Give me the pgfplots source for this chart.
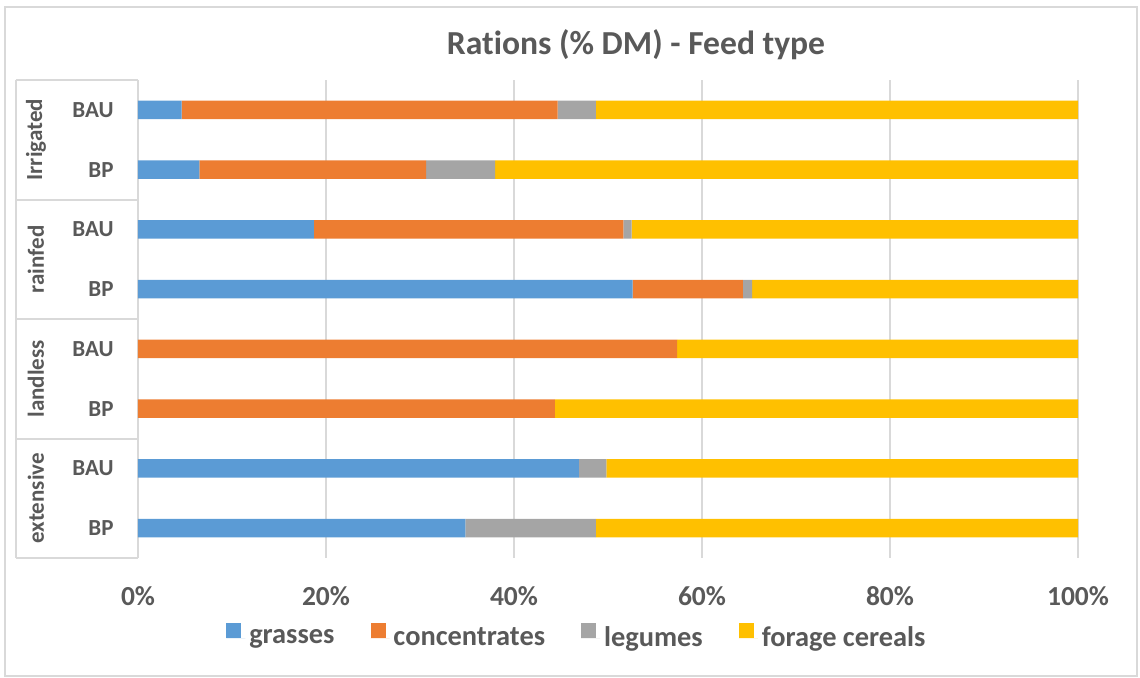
\documentclass[border=0pt]{standalone}
\usepackage{fontspec}
\setmainfont{Carlito}[Ligatures={NoCommon}]
\usepackage{pgfplots}
\pgfplotsset{compat=1.18}

\definecolor{cgrass}{HTML}{5B9BD5}
\definecolor{cconc}{HTML}{ED7D31}
\definecolor{cleg}{HTML}{A5A5A5}
\definecolor{cfor}{HTML}{FFC000}
\definecolor{txt}{HTML}{595959}
\definecolor{gridc}{HTML}{D9D9D9}

\begin{document}
\begin{tikzpicture}
  \useasboundingbox (0pt,0pt) rectangle (570pt,339pt);
  \draw[gridc, line width=1pt] (2.5pt,1pt) rectangle (568.5pt,335.5pt);
  \node[anchor=base, text=txt, font=\bfseries\fontsize{16.8}{19}\selectfont]
    at (318pt,311.5pt) {Rations (\% DM) - Feed type};
  \begin{axis}[
    at={(69pt,60pt)}, anchor=south west,
    scale only axis, width=470pt, height=239pt,
    xbar stacked, bar width=0.31,
    xmin=0, xmax=100, ymin=-0.5, ymax=7.5, y dir=reverse,
    ytick={0,...,7}, yticklabels={BAU,BP,BAU,BP,BAU,BP,BAU,BP},
    xtick={0,20,40,60,80,100},
    xticklabels={0\%,20\%,40\%,60\%,80\%,100\%},
    xmajorgrids, grid style={gridc, line width=1pt},
    major tick length=0pt,
    axis line style={draw=none},
    clip=false,
    yticklabel style={font=\bfseries\fontsize{11.5}{13}\selectfont, text=txt,
      inner sep=0pt, anchor=east, xshift=-12pt},
    xticklabel style={font=\bfseries\fontsize{13.75}{16}\selectfont, text=txt,
      anchor=base, yshift=-23.5pt},
    legend columns=-1,
    legend style={at={(0.468,-0.168)}, anchor=center, draw=none,
      font=\bfseries\fontsize{14.2}{16}\selectfont, text=txt,
      /tikz/every even column/.append style={column sep=16pt}},
    legend image code/.code={\fill[#1] (0pt,0pt) rectangle (7.5pt,7.5pt);
      \path (0pt,0pt) -- (9.5pt,0pt);},
  ]
    \addplot[fill=cgrass, draw=none] coordinates {
      (4.65,0) (6.52,1) (18.72,2) (52.63,3) (0,4) (0,5) (46.91,6) (34.82,7)};
    \addplot[fill=cconc, draw=none] coordinates {
      (40.0,0) (24.12,1) (32.91,2) (11.73,3) (57.34,4) (44.36,5) (0,6) (0,7)};
    \addplot[fill=cleg, draw=none] coordinates {
      (4.07,0) (7.34,1) (0.89,2) (0.96,3) (0,4) (0,5) (2.91,6) (13.9,7)};
    \addplot[fill=cfor, draw=none] coordinates {
      (51.28,0) (62.02,1) (47.48,2) (34.68,3) (42.66,4) (55.64,5) (50.18,6) (51.28,7)};
    \legend{grasses,concentrates,legumes,forage cereals}

    % two-level category frame
    \draw[gridc, line width=1pt] ([xshift=-61pt]axis cs:0,-0.5) -- (axis cs:0,-0.5);
    \draw[gridc, line width=1pt] ([xshift=-61pt]axis cs:0,1.5) -- (axis cs:0,1.5);
    \draw[gridc, line width=1pt] ([xshift=-61pt]axis cs:0,3.5) -- (axis cs:0,3.5);
    \draw[gridc, line width=1pt] ([xshift=-61pt]axis cs:0,5.5) -- (axis cs:0,5.5);
    \draw[gridc, line width=1pt] ([xshift=-61pt]axis cs:0,7.5) -- (axis cs:0,7.5);
    \draw[gridc, line width=1pt] ([xshift=-61pt]axis cs:0,-0.5) -- ([xshift=-61pt]axis cs:0,7.5);
    \draw[gridc, line width=1pt] (axis cs:0,-0.5) -- (axis cs:0,7.5);
    \node[rotate=90, text=txt, font=\bfseries\fontsize{11.5}{13}\selectfont]
      at ([xshift=-51pt]axis cs:0,0.5) {Irrigated};
    \node[rotate=90, text=txt, font=\bfseries\fontsize{11.5}{13}\selectfont]
      at ([xshift=-51pt]axis cs:0,2.5) {rainfed};
    \node[rotate=90, text=txt, font=\bfseries\fontsize{11.5}{13}\selectfont]
      at ([xshift=-51pt]axis cs:0,4.5) {landless};
    \node[rotate=90, text=txt, font=\bfseries\fontsize{11.5}{13}\selectfont]
      at ([xshift=-51pt]axis cs:0,6.5) {extensive};
  \end{axis}
\end{tikzpicture}
\end{document}
